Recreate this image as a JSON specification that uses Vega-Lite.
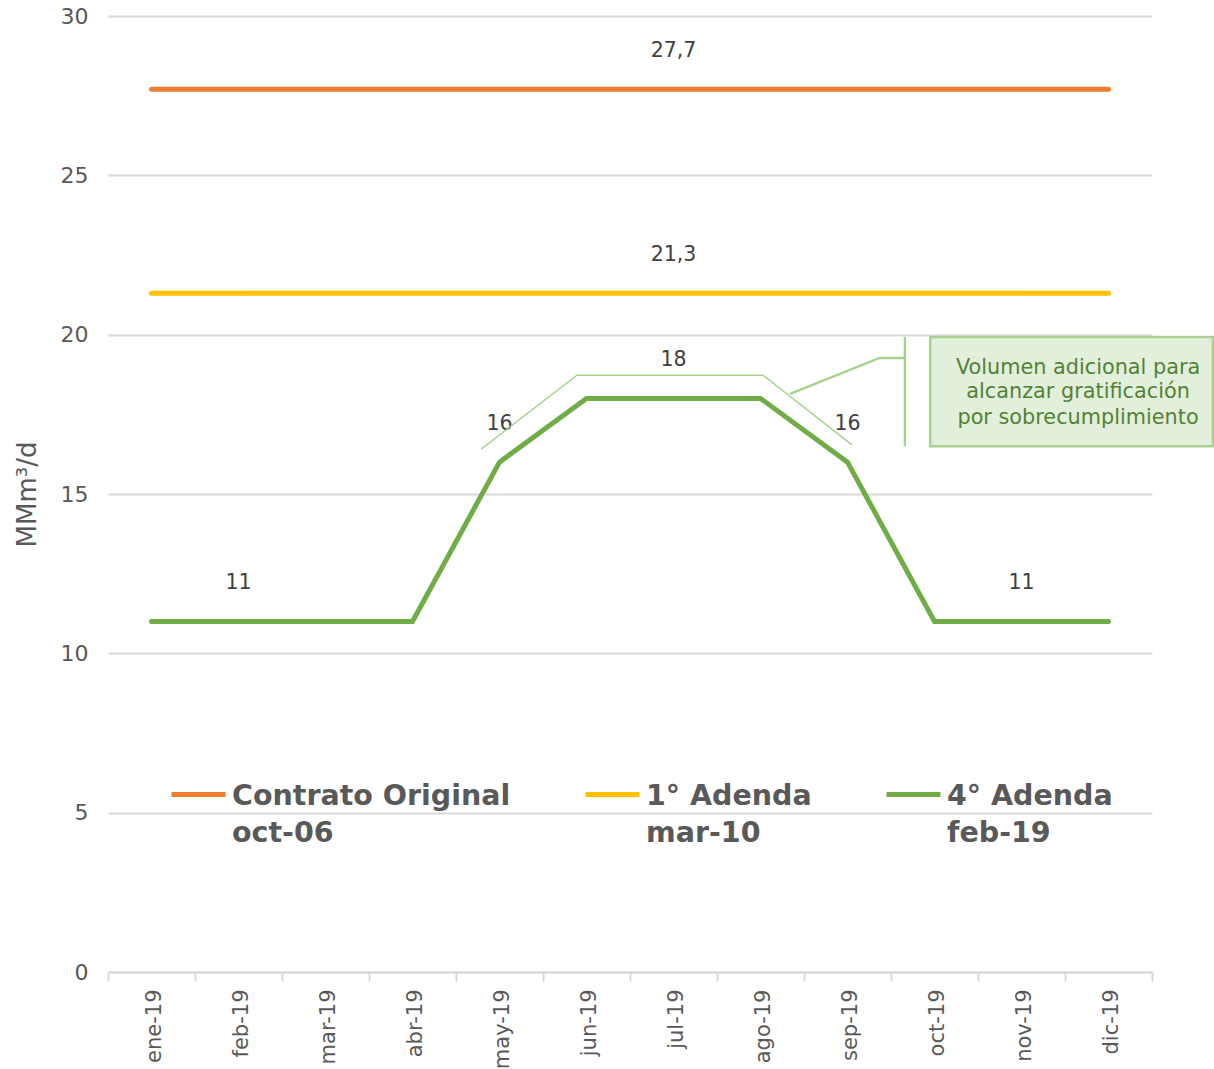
{
  "$schema": "https://vega.github.io/schema/vega-lite/v6.json",
  "width": 1044,
  "height": 956,
  "autosize": {"type": "none"},
  "padding": {"left": 108, "top": 16, "right": 62, "bottom": 97},
  "background": "white",
  "config": {
    "view": {"stroke": null},
    "font": "DejaVu Sans",
    "text": {"font": "DejaVu Sans"}
  },
  "datasets": {
    "series": [
      {"mes": "ene-19", "serie": "Contrato Original|oct-06", "valor": 27.7},
      {"mes": "feb-19", "serie": "Contrato Original|oct-06", "valor": 27.7},
      {"mes": "mar-19", "serie": "Contrato Original|oct-06", "valor": 27.7},
      {"mes": "abr-19", "serie": "Contrato Original|oct-06", "valor": 27.7},
      {"mes": "may-19", "serie": "Contrato Original|oct-06", "valor": 27.7},
      {"mes": "jun-19", "serie": "Contrato Original|oct-06", "valor": 27.7},
      {"mes": "jul-19", "serie": "Contrato Original|oct-06", "valor": 27.7},
      {"mes": "ago-19", "serie": "Contrato Original|oct-06", "valor": 27.7},
      {"mes": "sep-19", "serie": "Contrato Original|oct-06", "valor": 27.7},
      {"mes": "oct-19", "serie": "Contrato Original|oct-06", "valor": 27.7},
      {"mes": "nov-19", "serie": "Contrato Original|oct-06", "valor": 27.7},
      {"mes": "dic-19", "serie": "Contrato Original|oct-06", "valor": 27.7},
      {"mes": "ene-19", "serie": "1° Adenda|mar-10", "valor": 21.3},
      {"mes": "feb-19", "serie": "1° Adenda|mar-10", "valor": 21.3},
      {"mes": "mar-19", "serie": "1° Adenda|mar-10", "valor": 21.3},
      {"mes": "abr-19", "serie": "1° Adenda|mar-10", "valor": 21.3},
      {"mes": "may-19", "serie": "1° Adenda|mar-10", "valor": 21.3},
      {"mes": "jun-19", "serie": "1° Adenda|mar-10", "valor": 21.3},
      {"mes": "jul-19", "serie": "1° Adenda|mar-10", "valor": 21.3},
      {"mes": "ago-19", "serie": "1° Adenda|mar-10", "valor": 21.3},
      {"mes": "sep-19", "serie": "1° Adenda|mar-10", "valor": 21.3},
      {"mes": "oct-19", "serie": "1° Adenda|mar-10", "valor": 21.3},
      {"mes": "nov-19", "serie": "1° Adenda|mar-10", "valor": 21.3},
      {"mes": "dic-19", "serie": "1° Adenda|mar-10", "valor": 21.3},
      {"mes": "ene-19", "serie": "4° Adenda|feb-19", "valor": 11},
      {"mes": "feb-19", "serie": "4° Adenda|feb-19", "valor": 11},
      {"mes": "mar-19", "serie": "4° Adenda|feb-19", "valor": 11},
      {"mes": "abr-19", "serie": "4° Adenda|feb-19", "valor": 11},
      {"mes": "may-19", "serie": "4° Adenda|feb-19", "valor": 16},
      {"mes": "jun-19", "serie": "4° Adenda|feb-19", "valor": 18},
      {"mes": "jul-19", "serie": "4° Adenda|feb-19", "valor": 18},
      {"mes": "ago-19", "serie": "4° Adenda|feb-19", "valor": 18},
      {"mes": "sep-19", "serie": "4° Adenda|feb-19", "valor": 16},
      {"mes": "oct-19", "serie": "4° Adenda|feb-19", "valor": 11},
      {"mes": "nov-19", "serie": "4° Adenda|feb-19", "valor": 11},
      {"mes": "dic-19", "serie": "4° Adenda|feb-19", "valor": 11}
    ],
    "etiquetas": [
      {"mes": "jul-19", "valor": 27.7, "txt": "27,7"},
      {"mes": "jul-19", "valor": 21.3, "txt": "21,3"},
      {"mes": "jul-19", "valor": 18, "txt": "18"},
      {"mes": "may-19", "valor": 16, "txt": "16"},
      {"mes": "sep-19", "valor": 16, "txt": "16"},
      {"mes": "feb-19", "valor": 11, "txt": "11"},
      {"mes": "nov-19", "valor": 11, "txt": "11"}
    ],
    "trazos": [
      {"seg": "llave", "ord": 1, "px": 4.29, "py": 16.41},
      {"seg": "llave", "ord": 2, "px": 5.39, "py": 18.73},
      {"seg": "llave", "ord": 3, "px": 7.53, "py": 18.73},
      {"seg": "llave", "ord": 4, "px": 8.55, "py": 16.54}
    ],
    "conector": [
      {"seg": "c", "ord": 1, "px": 7.84, "py": 18.14},
      {"seg": "c", "ord": 2, "px": 8.87, "py": 19.27},
      {"seg": "c", "ord": 3, "px": 9.16, "py": 19.27},
      {"seg": "v", "ord": 1, "px": 9.16, "py": 19.93},
      {"seg": "v", "ord": 2, "px": 9.16, "py": 16.5}
    ],
    "caja": [
      {"x1": 9.45, "x2": 12.7, "y1": 19.93, "y2": 16.5}
    ],
    "nota": [
      {"px": 11.15, "py": 18.95, "txt": "Volumen adicional para"},
      {"px": 11.15, "py": 18.2, "txt": "alcanzar gratificación"},
      {"px": 11.15, "py": 17.4, "txt": "por sobrecumplimiento"}
    ]
  },
  "resolve": {"scale": {"x": "independent"}, "axis": {"x": "independent"}},
  "layer": [
    {
      "data": {"name": "series"},
      "mark": {"type": "line", "strokeWidth": 5, "strokeCap": "round", "strokeJoin": "miter"},
      "encoding": {
        "x": {
          "field": "mes", "type": "nominal", "sort": null,
          "scale": {"type": "band", "paddingInner": 0, "paddingOuter": 0,
            "domain": ["ene-19","feb-19","mar-19","abr-19","may-19","jun-19","jul-19","ago-19","sep-19","oct-19","nov-19","dic-19"]},
          "axis": {
            "title": null, "labelAngle": -90, "labelAlign": "right", "labelBaseline": "middle",
            "labelFontSize": 21, "labelColor": "#595959", "labelPadding": 8, "labelOffset": 3,
            "domainColor": "#d9d9d9", "domainWidth": 2,
            "tickColor": "#d9d9d9", "tickWidth": 2, "tickSize": 9, "tickBand": "extent",
            "grid": false
          }
        },
        "y": {
          "field": "valor", "type": "quantitative",
          "scale": {"domain": [0, 30], "nice": false},
          "axis": {
            "title": "MMm³/d", "titleFontSize": 26, "titleColor": "#595959", "titleFontWeight": "normal",
            "titlePadding": 20,
            "values": [0, 5, 10, 15, 20, 25, 30],
            "labelFontSize": 22, "labelColor": "#595959", "labelPadding": 20,
            "domain": false, "ticks": false,
            "grid": true, "gridColor": "#d9d9d9", "gridWidth": 2
          }
        },
        "color": {
          "field": "serie", "type": "nominal",
          "scale": {
            "domain": ["Contrato Original|oct-06", "1° Adenda|mar-10", "4° Adenda|feb-19"],
            "range": ["#ED7D31", "#FFC000", "#70AD47"]
          },
          "legend": {
            "title": null, "orient": "none", "legendX": 61, "legendY": 749,
            "direction": "horizontal", "columns": 3, "columnPadding": 64,
            "padding": 0,
            "symbolType": "stroke", "symbolSize": 2916, "symbolStrokeWidth": 5,
            "labelExpr": "split(datum.label, '|')",
            "labelFontSize": 28.5, "labelFontWeight": "bold", "labelColor": "#595959",
            "labelOffset": 4, "labelLimit": 400, "labelBaseline": "top",
            "encode": {"labels": {"update": {"lineHeight": {"value": 37}, "dy": {"value": -13}}}}
          }
        }
      }
    },
    {
      "data": {"name": "etiquetas"},
      "mark": {"type": "text", "fontSize": 20.5, "color": "#404040", "dy": -38},
      "encoding": {
        "x": {
          "field": "mes", "type": "nominal",
          "scale": {"type": "band", "paddingInner": 0, "paddingOuter": 0,
            "domain": ["ene-19","feb-19","mar-19","abr-19","may-19","jun-19","jul-19","ago-19","sep-19","oct-19","nov-19","dic-19"]},
          "axis": null
        },
        "y": {"field": "valor", "type": "quantitative"},
        "text": {"field": "txt"}
      }
    },
    {
      "data": {"name": "trazos"},
      "mark": {"type": "line", "color": "#a9d18e", "strokeWidth": 1.5},
      "encoding": {
        "x": {"field": "px", "type": "quantitative", "scale": {"domain": [0, 12], "nice": false, "zero": false}, "axis": null},
        "y": {"field": "py", "type": "quantitative"},
        "detail": {"field": "seg"},
        "order": {"field": "ord"}
      }
    },
    {
      "data": {"name": "conector"},
      "mark": {"type": "line", "color": "#a9d18e", "strokeWidth": 2.5},
      "encoding": {
        "x": {"field": "px", "type": "quantitative", "scale": {"domain": [0, 12], "nice": false, "zero": false}, "axis": null},
        "y": {"field": "py", "type": "quantitative"},
        "detail": {"field": "seg"},
        "order": {"field": "ord"}
      }
    },
    {
      "data": {"name": "caja"},
      "mark": {"type": "rect", "fill": "#e2efda", "stroke": "#a9d18e", "strokeWidth": 2.5},
      "encoding": {
        "x": {"field": "x1", "type": "quantitative", "scale": {"domain": [0, 12], "nice": false, "zero": false}, "axis": null},
        "x2": {"field": "x2"},
        "y": {"field": "y1", "type": "quantitative"},
        "y2": {"field": "y2"}
      }
    },
    {
      "data": {"name": "nota"},
      "mark": {"type": "text", "fontSize": 20.8, "color": "#548235", "align": "center", "baseline": "middle"},
      "encoding": {
        "x": {"field": "px", "type": "quantitative", "scale": {"domain": [0, 12], "nice": false, "zero": false}, "axis": null},
        "y": {"field": "py", "type": "quantitative"},
        "text": {"field": "txt"}
      }
    }
  ]
}
